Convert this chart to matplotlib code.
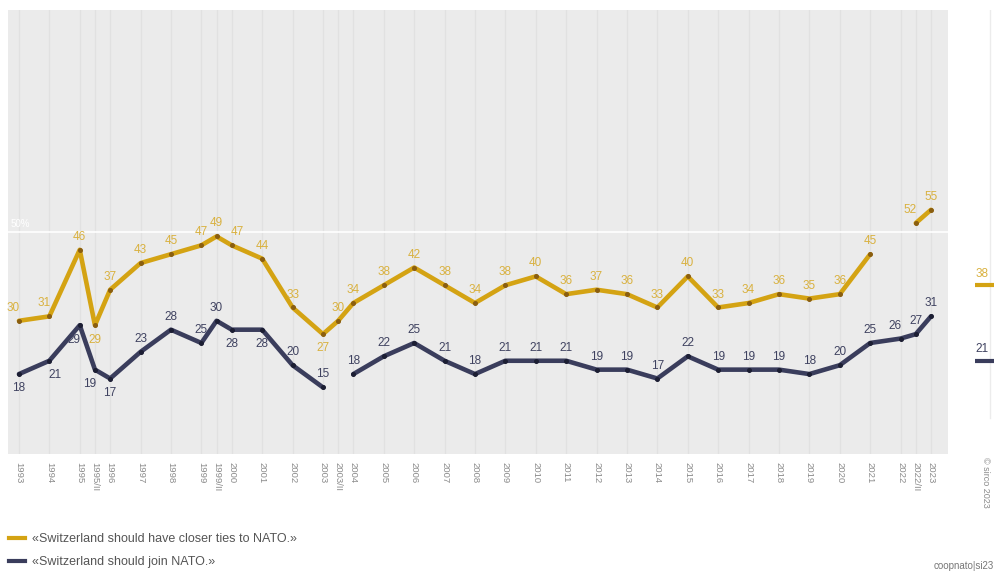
import matplotlib
matplotlib.use("Agg")
import matplotlib.pyplot as plt
from matplotlib.lines import Line2D
import numpy as np

plt.rcParams['font.family'] = ['Liberation Sans', 'DejaVu Sans']

# ---- data ----
periods = ["1993", "1994", "1995", "1995/II", "1996", "1997", "1998", "1999", "1999/II",
           "2000", "2001", "2002", "2003", "2003/II", "2004", "2005", "2006", "2007",
           "2008", "2009", "2010", "2011", "2012", "2013", "2014", "2015", "2016",
           "2017", "2018", "2019", "2020", "2021", "2022", "2022/II", "2023"]
closer_ties = [30, 31, 46, 29, 37, 43, 45, 47, 49,
               47, 44, 33, 27, 30, 34, 38, 42, 38,
               34, 38, 40, 36, 37, 36, 33, 40, 33,
               34, 36, 35, 36, 45, None, 52, 55]
join_nato = [18, 21, 29, 19, 17, 23, 28, 25, 30,
             28, 28, 20, 15, None, 18, 22, 25, 21,
             18, 21, 21, 21, 19, 19, 17, 22, 19,
             19, 19, 18, 20, 25, 26, 27, 31]
mean_closer = 38
mean_join = 21
series_labels = ["«Switzerland should have closer ties to NATO.»",
                 "«Switzerland should join NATO.»"]

# label placement (a = above, b = below, suffix l/r = shifted left/right)
place_closer = ["al", "al", "a", "b", "a", "a", "a", "a", "a",
                "ar", "a", "a", "b", "a", "a", "a", "a", "a",
                "a", "a", "a", "a", "a", "a", "a", "a", "a",
                "a", "a", "a", "a", "a", "a", "al", "a"]
place_join = ["b", "br", "bl", "bl", "b", "a", "a", "a", "a",
              "b", "b", "a", "a", "a", "a", "a", "a", "a",
              "a", "a", "a", "a", "a", "a", "a", "a", "a",
              "a", "a", "a", "a", "a", "al", "a", "a"]

GOLD = "#d4a313"
GOLD_TXT = "#d9b13f"
GOLD_DOT = "#8a5e10"
NAVY = "#3a3d5c"
NAVY_TXT = "#3f4260"
NAVY_DOT = "#1c1e33"
BG = "#ebebeb"
GRID = "#e1e1e1"

def pos(p):
    return int(p[:4]) + (0.5 if p.endswith("/II") else 0.0)

x = np.array([pos(p) for p in periods])
y1 = np.array([np.nan if v is None else v for v in closer_ties], dtype=float)
y2 = np.array([np.nan if v is None else v for v in join_nato], dtype=float)

W, H = 995, 571
fig = plt.figure(figsize=(W / 100, H / 100), dpi=100)
fig.patch.set_facecolor("white")

ax = fig.add_axes([8 / W, (H - 454) / H, 940 / W, 444 / H])
ax.set_facecolor(BG)
ax.set_xlim(1992.64, 2023.56)
ax.set_ylim(0, 100)
for s in ax.spines.values():
    s.set_visible(False)

for xv in x:
    ax.axvline(xv, color=GRID, lw=1.0, zorder=0)
ax.axhline(50, color="white", lw=1.2, zorder=1)
ax.text(1992.72, 50.6, "50%", color="white", fontsize=7, va="bottom", ha="left", zorder=2)

ax.plot(x, y1, color=GOLD, lw=3.3, solid_capstyle="round", solid_joinstyle="round", zorder=3)
ax.plot(x, y1, ls="none", marker="o", ms=2.6, color=GOLD_DOT, zorder=4)
ax.plot(x, y2, color=NAVY, lw=3.3, solid_capstyle="round", solid_joinstyle="round", zorder=3)
ax.plot(x, y2, ls="none", marker="o", ms=2.6, color=NAVY_DOT, zorder=4)

def offs(code):
    dy = 5 if code[0] == "a" else -6
    dx = 0
    if code.endswith("l"):
        dx = -4
    elif code.endswith("r"):
        dx = 4
    va = "bottom" if code[0] == "a" else "top"
    return dx, dy, va

for xv, yv, pl in zip(x, y1, place_closer):
    if np.isnan(yv):
        continue
    dx, dy, va = offs(pl)
    ax.annotate(f"{int(yv)}", (xv, yv), xytext=(dx, dy), textcoords="offset points",
                ha="center", va=va, fontsize=8.5, color=GOLD_TXT, zorder=5)
for xv, yv, pl in zip(x, y2, place_join):
    if np.isnan(yv):
        continue
    dx, dy, va = offs(pl)
    ax.annotate(f"{int(yv)}", (xv, yv), xytext=(dx, dy), textcoords="offset points",
                ha="center", va=va, fontsize=8.5, color=NAVY_TXT, zorder=5)

ax.set_yticks([])
ax.set_xticks(x)
ax.set_xticklabels(periods, rotation=-90, fontsize=6.8, color="#8a8a8a")
ax.tick_params(axis="x", length=0, pad=6)

# right panel: mean values
ax2 = fig.add_axes([972 / W, (H - 454) / H, 23 / W, 444 / H])
ax2.set_xlim(0, 1)
ax2.set_ylim(0, 100)
ax2.axis("off")
ax2.axvline(0.8, ymin=0.08, ymax=1.0, color="#ececec", lw=1)
ax2.plot([0.15, 1.0], [mean_closer, mean_closer], color=GOLD, lw=3, solid_capstyle="butt")
ax2.plot([0.15, 1.0], [mean_join, mean_join], color=NAVY, lw=3, solid_capstyle="butt")
ax2.annotate(f"{mean_closer}", (0.15, mean_closer), xytext=(0, 4), textcoords="offset points",
             ha="left", va="bottom", fontsize=8.5, color=GOLD_TXT)
ax2.annotate(f"{mean_join}", (0.15, mean_join), xytext=(0, 4), textcoords="offset points",
             ha="left", va="bottom", fontsize=8.5, color=NAVY_TXT)

fig.text(986 / W, 1 - 457 / H, "© sirco 2023", rotation=-90, ha="center", va="top",
         fontsize=6.5, color="#8a8a8a")
fig.text(994 / W, 1 - 566 / H, "coopnato|si23", ha="right", va="center",
         fontsize=7, color="#777777")

handles = [Line2D([], [], color=GOLD, lw=3), Line2D([], [], color=NAVY, lw=3)]
fig.legend(handles, series_labels, loc="lower left", bbox_to_anchor=(0.0, -0.01),
           frameon=False, fontsize=9, labelcolor="#555555", handlelength=1.3,
           handletextpad=0.6, labelspacing=0.85, borderaxespad=0.3)

fig.savefig("out.png", dpi=100, facecolor="white")
